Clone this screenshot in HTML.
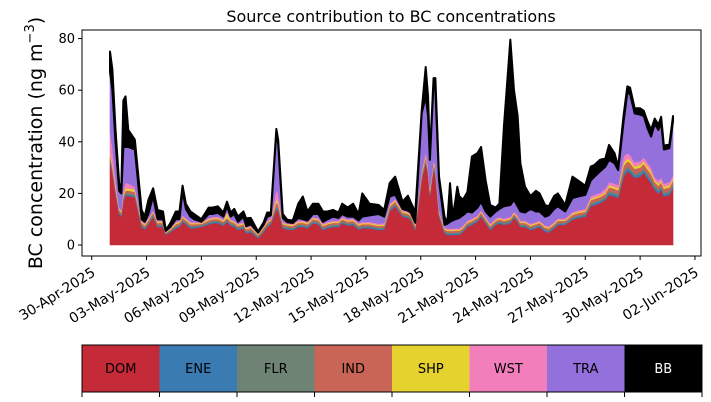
<!DOCTYPE html>
<html><head><meta charset="utf-8"><style>
html,body{margin:0;padding:0;background:#fff;}
svg{display:block;font-family:"DejaVu Sans","Liberation Sans",sans-serif;}
</style></head><body>
<svg id="chart" width="711" height="402" viewBox="0 0 711 402">
<text x="391" y="22" text-anchor="middle" font-size="16">Source contribution to BC concentrations</text>
<text transform="translate(42,143) rotate(-90)" text-anchor="middle" font-size="19">BC concentration (ng m<tspan dy="-8" font-size="13">−3</tspan><tspan dy="8">)</tspan></text>
<g id="areas"></g>
<rect x="82" y="30" width="619" height="226" fill="none" stroke="#000" stroke-width="1"/>
<g id="axes"></g>
<g id="legend"></g>
</svg>
<script>
const times=[0,0.13,0.3,0.5,0.62,0.73,0.85,1.0,1.36,1.73,1.9,2.1,2.36,2.6,2.9,3.05,3.3,3.6,3.8,3.97,4.15,4.4,4.6,5.0,5.4,5.6,5.9,6.2,6.4,6.6,6.8,7.0,7.3,7.45,7.7,8.1,8.4,8.6,8.8,9.1,9.2,9.45,9.7,10.0,10.3,10.55,10.8,11.1,11.4,11.65,11.9,12.2,12.5,12.7,13.0,13.3,13.6,13.8,14.2,14.7,15.0,15.3,15.6,16.0,16.3,16.45,16.7,17.05,17.27,17.4,17.5,17.7,17.8,18.0,18.3,18.45,18.6,18.75,18.9,19.0,19.1,19.3,19.55,19.8,20.1,20.3,20.55,20.8,21.1,21.3,21.55,21.9,22.1,22.3,22.45,22.7,23.0,23.3,23.5,23.8,24.0,24.3,24.5,24.9,25.3,25.6,26.0,26.3,26.5,26.8,27.1,27.3,27.6,27.8,28.1,28.3,28.45,28.7,29.0,29.2,29.4,29.6,29.8,30.0,30.15,30.3,30.6,30.8];
const DOM=[32,28,20,12,11,17,19,19,18.5,7,6,8,11,7,7,4,5,6.5,7,9,8,6.5,6.5,7,8,8.4,8.5,7.5,9,7.5,7,5.8,6.5,4.5,5,2.6,5,7,8,13.6,13,6.5,6,5.8,7,7,6.5,8.4,8,5.8,6.5,7,7,8.4,7.5,7.8,6,6.5,6.5,5.8,6,13,15,11,10.5,9.8,5.8,25,31.7,27,18.8,29,27,11,4.5,3.9,3.9,3.9,4,4,3.9,5,7,7.8,9,11,8.4,5.8,7.8,8.4,7.8,8.4,10.5,9,7,7,5.8,6.5,7,5.2,4.8,6.5,7.8,7.8,9.8,10.5,11,15,15.5,16.2,17.5,19.4,18.8,18.2,26.5,28.5,28,26,26.5,28,26,24,21.4,20,21.4,18.8,19.4,22];
const ENE=[.8,.7,.6,.5,.5,.6,.6,.6,.6,.5,.5,.5,.5,.5,.5,.3,.3,.5,.5,.5,.5,.5,.5,.4,.5,.5,.5,.5,.5,.5,.5,.5,.5,.5,.5,.4,.5,.5,.5,.8,.8,.5,.5,.5,.5,.5,.5,.5,.5,.5,.5,.5,.5,.5,.5,.5,.5,.5,.5,.5,.5,.6,.6,.5,.5,.5,.5,.7,.7,.7,.6,.7,.7,.5,.5,.5,.5,.5,.5,.5,.5,.5,.5,.5,.5,.5,.5,.5,.5,.5,.5,.5,.5,.5,.5,.5,.5,.5,.5,.5,.5,.5,.5,.5,.6,.6,.6,.7,.7,.7,.7,.9,.9,.9,1.2,1.1,1.1,1,1,1,1,1,.9,.9,.9,.9,.9,.9];
const FLR=[.6,.5,.5,.4,.4,.5,.5,.5,.5,.4,.4,.4,.4,.4,.4,.2,.3,.4,.4,.4,.4,.4,.4,.3,.4,.4,.4,.4,.4,.4,.4,.4,.4,.4,.4,.3,.4,.4,.4,.6,.6,.4,.4,.4,.4,.4,.4,.4,.4,.4,.4,.4,.4,.4,.4,.4,.4,.4,.4,.4,.4,.4,.4,.4,.4,.4,.4,.5,.5,.5,.5,.5,.5,.4,.4,.4,.4,.4,.4,.4,.4,.4,.4,.4,.4,.4,.4,.4,.4,.4,.4,.4,.4,.4,.4,.4,.4,.4,.4,.4,.4,.4,.4,.4,.4,.4,.4,.5,.5,.5,.5,.6,.6,.6,.9,.8,.8,.7,.7,.7,.7,.7,.6,.6,.6,.6,.6,.6];
const IND=[1.5,1.3,1,.7,.7,1,1,1,1,.7,.7,.7,.7,.7,.7,.3,.4,.7,.7,.7,.7,.7,.7,.5,.7,.7,.7,.7,.7,.7,.7,.7,.7,.7,.7,.6,.7,.7,.7,1.5,1.4,.7,.7,.7,.7,.7,.7,.7,.7,.7,.7,.7,.7,.7,.7,.7,.7,.7,.7,.7,.7,.9,.9,.7,.7,.7,.7,1.2,1.2,1.2,1,1.2,1.2,.7,.7,.7,.7,.7,.7,.7,.7,.7,.7,.7,.7,.7,.7,.7,.7,.7,.7,.7,.7,.7,.7,.7,.7,.7,.7,.7,.7,.7,.7,.7,.9,.9,.9,1.2,1.2,1.2,1.2,1.5,1.5,1.5,2.2,2,2,1.8,1.8,1.8,1.8,1.8,1.5,1.5,1.5,1.5,1.5,1.5];
const SHP=[1.1,1,.9,.4,.4,.9,.9,.9,.9,.4,.4,.4,.4,.4,.4,.2,.3,.4,.4,.4,.4,.4,.4,.3,.4,.4,.4,.4,1.9,.4,.4,.4,.4,.4,.4,.3,.4,.4,.4,1.1,1,.4,.4,.4,.4,.4,.4,.4,.4,.4,.4,.4,.4,.4,.4,.4,.4,.4,.4,.4,.4,.5,.5,.4,.4,.4,.4,.6,.6,.6,.6,.6,.6,.4,.4,.4,.4,.4,.4,.4,.4,.4,.4,.4,.4,.4,.4,.4,.4,.4,.4,.4,.4,.4,.4,.4,.4,.4,.4,.4,.4,.4,.4,.4,.5,.5,.5,.6,.6,.6,.6,.8,.8,.8,1.2,1.1,1.1,1,1,1,1,1,.8,.8,.8,.8,.8,.8];
const WST=[8,6.5,3,.5,.5,2,2,2,1,.5,.5,.5,.5,.5,.5,.2,.2,.5,.5,.5,.5,.5,.5,.3,.5,.5,.5,.5,.5,.5,.5,.5,.5,.5,.5,.4,.5,.5,.5,4,3.2,.5,.5,.5,.5,.5,.5,.5,.5,.5,.5,.5,.5,.5,.5,.5,.5,.5,.5,.5,.5,.6,.6,.5,.5,.5,.5,1,1.5,1,.8,1,1,.5,.5,.5,.5,.5,.5,.5,.5,.5,.5,.5,.5,.5,.5,.5,.5,.5,.5,.5,.5,.5,.5,.5,.5,.5,.5,.5,.5,.5,.5,.5,.6,.6,.6,1,1,1,1.5,1.2,1.2,1.2,2.5,2,2,1.5,1.5,1.5,1.5,1.5,1.2,1.2,1.2,1.2,1.2,1.2];
const TRA=[23,22,14,6.5,6.5,16,14,14,14.5,.5,.5,1.5,5.5,.5,.5,.3,.5,1,.5,9.5,3.5,2,1,.2,1.5,1.1,1.5,1,2,1,2.5,.7,2,.3,.5,.2,.3,1.5,1,22.4,19,1.5,.3,.2,1,.5,.5,1.1,1.5,.7,1,1.5,1,1.1,1,.7,1,2,2.5,3.7,2.5,2.8,1.5,.5,.3,.3,.3,22,21.4,19,10.7,30,29,11.5,.8,1.8,2.6,3.1,3.5,3.7,4.1,4,3.5,2.3,3,3.3,2.1,2.7,2.7,3.1,4.7,4.6,4.5,3.5,3.5,3.1,5.7,4,3.5,3.3,4.2,5,4.7,2.7,5.4,5.3,5.4,6,7,8.3,8.4,8.6,7.9,5.8,13.5,23.5,23.5,19,18,16,13.3,12,20.6,19.6,21.1,13.2,13.1,21];
const BB=[8,8,5,3,2,18,19.6,6.6,3.8,3.6,2,5.5,3,3.6,3,.3,1.4,3,3,2,2,2,2,1,2.5,2.5,2.5,1.6,1.8,1.6,2,2,2,3,2.5,.4,.9,1.6,1.1,1,1.8,1.5,1,1,5.5,8.8,3.5,4,4,4,3,2.6,2.1,4,3.5,5,2.5,9,4.5,3.5,2.6,5.2,7,2.8,5.8,4,4.2,1,11.4,7.6,2,1.7,4.7,1.5,3.2,.2,15,1.5,7.5,12.4,8.5,6,7.5,21.7,21.1,21.2,12,4.5,1.5,2,31,64.1,42.5,35,18.7,10,5,8,7,4.5,3.5,5,5,2.5,8.3,6.2,3.6,5.4,4.5,4.5,3.2,5.8,3.9,1.4,2.5,2.5,2.5,2,2.5,2,2.7,2.7,2,2,2.2,1.5,1.5,2];
const seriesNames=["DOM","ENE","FLR","IND","SHP","WST","TRA","BB"];
const seriesColors=["#c42a37","#3a7cb2","#6f8374","#c86556","#e5d22f","#f27fbc","#9370db","#000000"];
const yTicks=[0,20,40,60,80];
const xTickLabels=["30-Apr-2025","03-May-2025","06-May-2025","09-May-2025","12-May-2025","15-May-2025","18-May-2025","21-May-2025","24-May-2025","27-May-2025","30-May-2025","02-Jun-2025"];
const xTickDays=[-1,2,5,8,11,14,17,20,23,26,29,32];

const NS="http://www.w3.org/2000/svg";
function xScale(t){return 110.0+t*18.28;}
function yScale(v){return 245-v*2.58;}
const series=[DOM,ENE,FLR,IND,SHP,WST,TRA,BB];
const areas=document.getElementById('areas');
let base=times.map(()=>0);
series.forEach((s,k)=>{
  const top=base.map((b,i)=>b+s[i]);
  let d="M"+times.map((t,i)=>xScale(t).toFixed(2)+","+yScale(top[i]).toFixed(2)).join("L");
  for(let i=times.length-1;i>=0;i--)d+="L"+xScale(times[i]).toFixed(2)+","+yScale(base[i]).toFixed(2);
  d+="Z";
  const p=document.createElementNS(NS,'path');
  p.setAttribute('d',d);
  p.setAttribute('fill',seriesColors[k]);
  p.setAttribute('stroke',seriesColors[k]);
  p.setAttribute('stroke-width',k===7?'2':'0.6');
  p.setAttribute('stroke-linejoin','round');
  
  
  areas.appendChild(p);
  base=top;
});
const axes=document.getElementById('axes');
yTicks.forEach(v=>{
  const y=yScale(v);
  const l=document.createElementNS(NS,'line');
  l.setAttribute('x1',78);l.setAttribute('x2',82);l.setAttribute('y1',y);l.setAttribute('y2',y);
  l.setAttribute('stroke','#000');
  
  
  axes.appendChild(l);
  const tx=document.createElementNS(NS,'text');
  tx.setAttribute('x',75);tx.setAttribute('y',y+4.5);tx.setAttribute('text-anchor','end');tx.setAttribute('font-size','13');
  tx.textContent=v;
  
  
  axes.appendChild(tx);
});
xTickDays.forEach((d,i)=>{
  const x=xScale(d);
  const l=document.createElementNS(NS,'line');
  l.setAttribute('x1',x);l.setAttribute('x2',x);l.setAttribute('y1',256);l.setAttribute('y2',260);
  l.setAttribute('stroke','#000');
  
  
  axes.appendChild(l);
  const tx=document.createElementNS(NS,'text');
  tx.setAttribute('transform','translate('+(x-1)+',266) rotate(-32)');
  tx.setAttribute('text-anchor','end');tx.setAttribute('font-size','14');tx.setAttribute('dy','0.75em');
  tx.textContent=xTickLabels[i];
  
  
  axes.appendChild(tx);
});
const leg=document.getElementById('legend');
const lx=82,lw=620/8,ly=345,lh=47;
seriesNames.forEach((n,k)=>{
  const r=document.createElementNS(NS,'rect');
  r.setAttribute('x',lx+k*lw);r.setAttribute('y',ly);r.setAttribute('width',lw+0.5);r.setAttribute('height',lh);
  r.setAttribute('fill',seriesColors[k]);
  
  
  leg.appendChild(r);
  const t=document.createElementNS(NS,'text');
  t.setAttribute('x',lx+k*lw+lw/2);t.setAttribute('y',ly+lh/2+4.5);t.setAttribute('text-anchor','middle');t.setAttribute('font-size','13');
  t.setAttribute('fill',k===7?'#fff':'#000');
  t.textContent=n;
  
  
  leg.appendChild(t);
});
for(let k=0;k<=8;k++){
  const l=document.createElementNS(NS,'line');
  const x=lx+k*lw;
  l.setAttribute('x1',x);l.setAttribute('x2',x);l.setAttribute('y1',ly+lh);l.setAttribute('y2',ly+lh+5);
  l.setAttribute('stroke','#000');
  
  
  leg.appendChild(l);
}
const fr=document.createElementNS(NS,'rect');
fr.setAttribute('x',lx);fr.setAttribute('y',ly);fr.setAttribute('width',620);fr.setAttribute('height',lh);
fr.setAttribute('fill','none');fr.setAttribute('stroke','#000');


leg.appendChild(fr);
</script>
</body></html>
